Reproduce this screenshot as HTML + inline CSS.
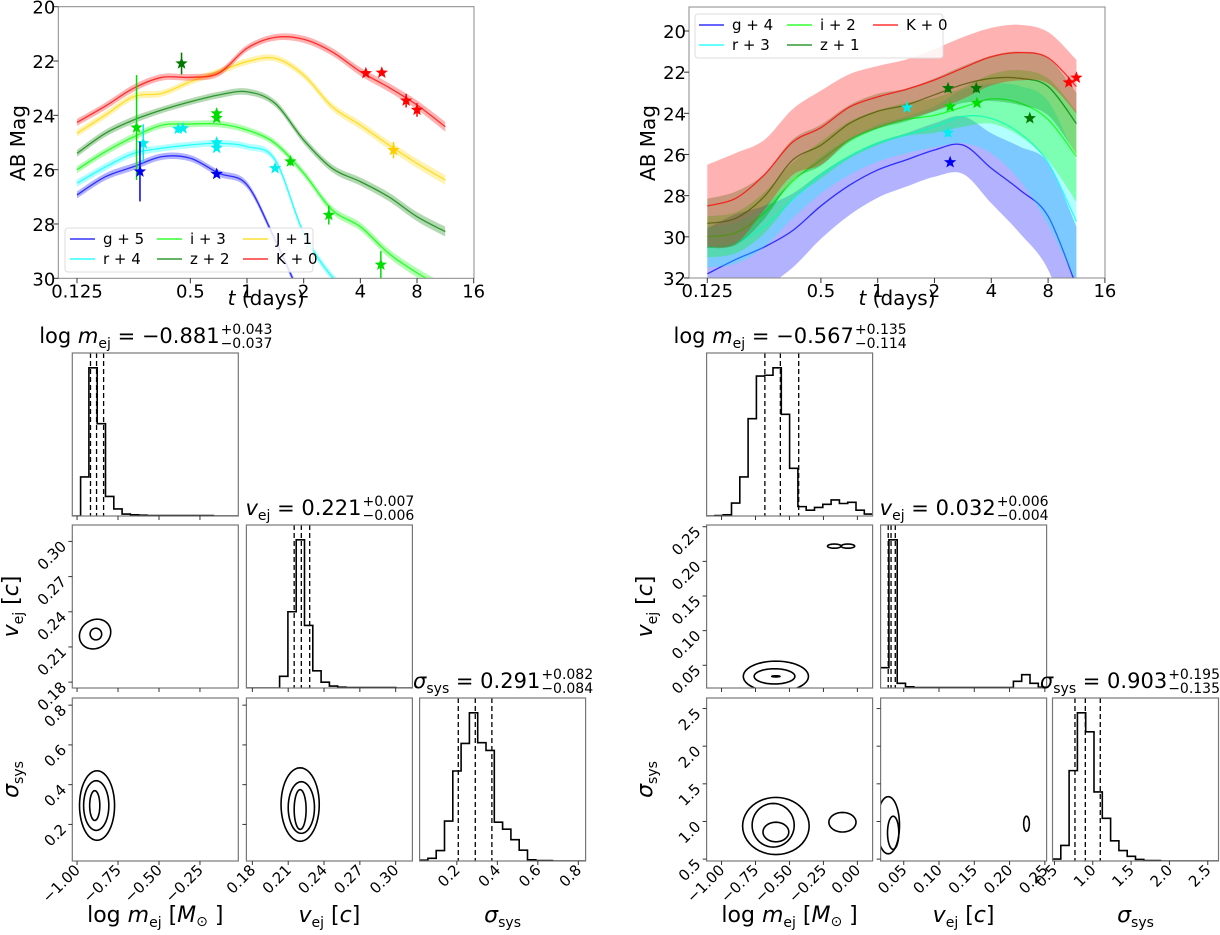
<!DOCTYPE html>
<html><head><meta charset="utf-8"><style>
html,body{margin:0;padding:0;background:#fff;}
svg{display:block;font-family:"DejaVu Sans","Liberation Sans",sans-serif;}
</style></head><body>
<svg id="fig" width="1220" height="935" viewBox="0 0 1220 935"></svg>
<script>
// ---------- light curve data ----------
const lcTimes = [0.125,0.177,0.25,0.354,0.5,0.707,1,1.41,2,2.83,4,5.66,8,11.3];
const tlG = [26.93,26.26,25.89,25.52,25.58,26.13,26.56,28.58,30.8,32,33,33.5,34,34.5];
const tlR = [26.5,25.9,25.4,25.21,25.09,25.03,25.15,25.64,28.34,29.94,30.8,31.5,32,32.5];
const tlI = [26.0,25.34,24.79,24.36,24.32,24.32,24.54,25.03,26.13,27.48,28.1,29.08,29.8,30.4];
const tlZ = [25.4,24.66,24.17,23.8,23.5,23.25,23.13,23.56,24.91,25.95,26.44,27.0,27.73,28.28];
const tlJ = [24.66,23.99,23.31,23.19,22.76,22.39,22.02,21.9,22.52,23.68,24.36,25.09,25.77,26.38];
const tlK = [24.26,23.66,23.0,22.6,22.6,22.45,21.53,21.13,21.2,21.66,22.39,22.97,23.62,24.42];
const tlHW = [0.13,0.13,0.13,0.12,0.12,0.12,0.12,0.12,0.13,0.14,0.15,0.16,0.17,0.18];
const tlStarT = [0.449,0.259,0.69,0.69,1.70,2.72,5.14,0.281,0.431,0.457,0.69,0.69,1.41,0.270,0.69,6.0,4.28,5.2,7.0,8.0];
const tlStarM = [22.09,24.45,23.93,24.1,25.7,27.67,29.5,25.03,24.5,24.48,25.0,25.2,25.95,26.07,26.16,25.28,22.45,22.43,23.46,23.8];
const tlStarE = [0.4,1.93,0.1,0.1,0.15,0.35,0.5,0.7,0.15,0.1,0.1,0.1,0.05,1.1,0.1,0.3,0.1,0.1,0.25,0.25];
const tlStarB = ['z','i','i','i','i','i','i','r','r','r','r','r','r','g','g','J','K','K','K','K'];

const trG = [31.8,31.1,30.5,29.7,28.5,27.5,26.75,26.27,25.78,25.54,26.67,27.72,29.0,32.4];
const trR = [30.5,30.3,29.5,28.2,27.0,26.1,25.45,25.05,24.65,24.15,24.25,24.97,26.4,29.25];
const trI = [30.0,29.8,28.85,27.3,26.27,25.3,24.7,24.3,24.1,23.7,23.3,23.5,24.3,26.1];
const trZ = [29.35,29.1,28.05,26.27,25.55,24.5,23.9,23.6,23.1,22.6,22.3,22.3,22.7,24.5];
const trK = [28.5,28.13,27.0,25.4,24.7,23.7,23.2,22.84,22.38,21.8,21.25,21.05,21.3,22.7];
const trHWG = [2.2,2.2,2.0,1.8,1.6,1.45,1.35,1.3,1.3,1.4,1.7,2.1,2.6,2.9];
const trHWR = [1.0,1.0,1.0,0.9,0.9,0.9,0.9,0.9,1.0,1.3,1.7,2.3,3.0,3.0];
const trHWI = [1.0,1.0,1.0,0.9,0.9,0.9,0.85,0.8,0.85,0.95,1.2,1.6,2.0,2.2];
const trHWZ = [1.2,1.3,1.1,1.0,1.0,0.9,0.85,0.8,0.8,0.9,1.1,1.3,1.4,1.5];
const trHWK = [2.0,2.2,1.7,1.6,1.8,1.6,1.5,1.45,1.5,1.5,1.4,1.35,1.25,1.3];
const trStarT = [1.43,2.36,2.36,3.33,6.4,2.42,3.36,2.42,10.3,11.3];
const trStarM = [23.72,24.94,22.78,22.78,24.24,23.67,23.5,26.38,22.5,22.27];
const trStarE = [0.05,0.2,0.2,0.2,0.05,0.1,0.1,0.15,0.1,0.05];
const trStarB = ['r','r','z','z','z','i','i','g','K','K'];

const xTickVals = [0.125,0.5,1,2,4,8,16];
const xTickLabels = ['0.125','0.5','1','2','4','8','16'];
const tlYTicks = [20,22,24,26,28,30];
const trYTicks = [20,22,24,26,28,30,32];

// ---------- corner data ----------
const L_mejHist = [0,100,379,236,50,18,5,3,2,1,1,1,1,1,1,1,1,0,0,0];
const L_vHist = [0,0,0,0,30,195,379,160,44,15,5,2,1,1,1,1,1,1,0,0];
const L_sigHist = [2,7,27,103,232,303,382,305,285,100,82,55,28,3,1,1,0,0,0,0];
const R_mejHist = [0,1,3,33,100,249,358,360,379,260,122,24,15,22,30,41,32,35,15,5];
const R_vHist = [52,379,12,3,1,1,1,1,1,1,1,1,1,1,1,1,17,34,12,2];
const R_sigHist = [5,40,233,382,333,178,110,52,27,12,4,1,1,0,0,0,0,0,0,0];
const L_med = [-0.881,0.221,0.291];
const L_plus = [0.043,0.007,0.082];
const L_minus = [0.037,0.006,0.084];
const R_med = [-0.567,0.032,0.903];
const R_plus = [0.135,0.006,0.195];
const R_minus = [0.114,0.004,0.135];
const L_c21 = [[-0.89,0.221,0.1,0.012,-35],[-0.885,0.221,0.035,0.005,-35]];
const L_c31 = [[-0.878,0.295,0.107,0.175,0],[-0.883,0.295,0.077,0.125,0],[-0.892,0.295,0.031,0.075,0]];
const L_c32 = [[0.220,0.30,0.016,0.185,0],[0.221,0.285,0.011,0.13,0],[0.22,0.275,0.005,0.1,0]];
const R_c21 = [[-0.6,0.034,0.24,0.022,0],[-0.61,0.034,0.15,0.011,0],[-0.6,0.034,0.03,0.0008,0],[-0.17,0.222,0.05,0.003,0],[-0.07,0.222,0.05,0.003,0]];
const R_c31 = [[-0.6,0.94,0.245,0.38,0],[-0.62,0.95,0.155,0.29,0],[-0.6,0.86,0.095,0.13,0],[-0.11,0.99,0.1,0.13,0]];
const R_c32 = [[0.028,0.95,0.016,0.38,0],[0.035,0.85,0.008,0.22,0],[0.224,0.97,0.004,0.1,0]];
const L_mejTicks = [-1.0,-0.75,-0.5,-0.25];
const L_mejLabels = ['\u22121.00','\u22120.75','\u22120.50','\u22120.25'];
const L_vTicks = [0.18,0.21,0.24,0.27,0.30];
const L_vLabels = ['0.18','0.21','0.24','0.27','0.30'];
const L_sigTicks = [0.2,0.4,0.6,0.8];
const L_sigLabels = ['0.2','0.4','0.6','0.8'];
const R_mejTicks = [-1.0,-0.75,-0.5,-0.25,0];
const R_mejLabels = ['\u22121.00','\u22120.75','\u22120.50','\u22120.25','0.00'];
const R_vTicks = [0.05,0.10,0.15,0.20,0.25];
const R_vLabels = ['0.05','0.10','0.15','0.20','0.25'];
const R_sigTicks = [0.5,1.0,1.5,2.0,2.5];
const R_sigLabels = ['0.5','1.0','1.5','2.0','2.5'];

const NS='http://www.w3.org/2000/svg';
const svg=document.getElementById('fig');
function mk(tag,parent,attrs){const e=document.createElementNS(NS,tag);for(const k in attrs)e.setAttribute(k,attrs[k]);parent.appendChild(e);return e;}
const COL={g:'#0000ff',r:'#00ffff',i:'#00ff00',z:'#008000',J:'#ffd700',K:'#ff0000'};
const SCOL={g:'#0000ee',r:'#00eeee',i:'#00dd00',z:'#007700',J:'#ffcc00',K:'#ff0000'};
let clipId=0;
function smooth(p){let d='M'+p[0][0].toFixed(2)+','+p[0][1].toFixed(2);for(let i=0;i<p.length-1;i++){const p0=p[i-1]||p[i],p1=p[i],p2=p[i+1],p3=p[i+2]||p2;d+=' C'+(p1[0]+(p2[0]-p0[0])/6).toFixed(2)+','+(p1[1]+(p2[1]-p0[1])/6).toFixed(2)+' '+(p2[0]-(p3[0]-p1[0])/6).toFixed(2)+','+(p2[1]-(p3[1]-p1[1])/6).toFixed(2)+' '+p2[0].toFixed(2)+','+p2[1].toFixed(2);}return d;}
function smoothCont(p){return smooth(p).replace(/^M/,'L');}
function starPts(cx,cy,r){let s=[];for(let k=0;k<10;k++){const a=-Math.PI/2+k*Math.PI/5;const rr=k%2?r*0.42:r;s.push((cx+rr*Math.cos(a)).toFixed(2)+','+(cy+rr*Math.sin(a)).toFixed(2));}return s.join(' ');}

function drawLC(o){
  const g=mk('g',svg,{});
  
  
  const X=t=>o.xa+Math.log2(t/0.125)*o.xs;
  const Y=m=>o.ya+(m-o.m0)*o.ys;
  const cid='c'+(clipId++);
  const cp=mk('clipPath',g,{id:cid});mk('rect',cp,{x:o.x0,y:o.y0,width:o.x1-o.x0,height:o.y1-o.y0});
  const pl=mk('g',g,{'clip-path':'url(#'+cid+')'});
  o.bands.forEach(b=>{
    const up=lcTimes.map((t,i)=>[X(t),Y(b.m[i]-b.hw[i])]);
    const lo=lcTimes.map((t,i)=>[X(t),Y(b.m[i]+b.hw[i])]).reverse();
    const band=mk('path',pl,{d:smooth(up)+' '+smoothCont(lo)+' Z',fill:COL[b.k],'fill-opacity':o.alpha,stroke:'none'});
    
    
    const ln=mk('path',pl,{d:smooth(lcTimes.map((t,i)=>[X(t),Y(b.m[i])])),fill:'none',stroke:COL[b.k],'stroke-width':1.3,'stroke-opacity':0.75});
    
    
  });
  o.st.forEach((t,i)=>{
    const c=SCOL[o.sb[i]];
    const eb=mk('line',pl,{x1:X(t),x2:X(t),y1:Y(o.sm[i]-o.se[i]),y2:Y(o.sm[i]+o.se[i]),stroke:c,'stroke-width':1.5});
    
    
    const s=mk('polygon',pl,{points:starPts(X(t),Y(o.sm[i]),6.5),fill:c});
    
    
  });
  const fr=mk('rect',g,{x:o.x0,y:o.y0,width:o.x1-o.x0,height:o.y1-o.y0,fill:'none',stroke:'#888','stroke-width':1});
  
  
  xTickVals.forEach((t,i)=>{
    mk('line',g,{x1:X(t),x2:X(t),y1:o.y1,y2:o.y1+5,stroke:'#333'});
    const tx=mk('text',g,{x:X(t),y:o.y1+19,'font-size':18,'text-anchor':'middle',fill:'#000'});tx.textContent=xTickLabels[i];
    
    
  });
  o.yt.forEach(m=>{
    mk('line',g,{x1:o.x0-5,x2:o.x0,y1:Y(m),y2:Y(m),stroke:'#333'});
    const tx=mk('text',g,{x:o.x0-3,y:Y(m)+7,'font-size':18,'text-anchor':'end',fill:'#000'});tx.textContent=m;
    
    
  });
  const yl=mk('text',g,{x:0,y:0,'font-size':20,'text-anchor':'middle',transform:'translate('+o.ylx+',143) rotate(-90)'});yl.textContent='AB Mag';
  
  
  const xl=mk('text',g,{x:(o.x0+o.x1)/2,y:305,'font-size':20,'text-anchor':'middle'});
  const ti=mk('tspan',xl,{'font-style':'italic'});ti.textContent='t';
  const tr=mk('tspan',xl,{});tr.textContent=' (days)';
  
  
  const lg=mk('g',g,{});
  
  
  mk('rect',lg,{x:o.lg[0],y:o.lg[1],width:o.lg[2],height:o.lg[3],rx:3,fill:'#fff','fill-opacity':0.85,stroke:'#ddd'});
  o.bands.forEach((b,i)=>{
    const pos=o.lgPos[i];
    const e=mk('g',lg,{});
    
    
    mk('line',e,{x1:pos[0],x2:pos[0]+25,y1:pos[1],y2:pos[1],stroke:COL[b.k],'stroke-width':1.5,'stroke-opacity':0.8});
    const t=mk('text',e,{x:pos[0]+33,y:pos[1]+5,'font-size':15});t.textContent=b.label;
  });
}

drawLC({name:'light-curve-left',x0:58.3,x1:474,y0:6.7,y1:278.3,xa:77,xs:56.67,ya:6.7,m0:20,ys:27.16,alpha:0.3,ylx:25,
  bands:[{k:'g',m:tlG,hw:tlHW,label:'g + 5'},{k:'r',m:tlR,hw:tlHW,label:'r + 4'},{k:'i',m:tlI,hw:tlHW,label:'i + 3'},{k:'z',m:tlZ,hw:tlHW,label:'z + 2'},{k:'J',m:tlJ,hw:tlHW,label:'J + 1'},{k:'K',m:tlK,hw:tlHW,label:'K + 0'}],
  st:tlStarT,sm:tlStarM,se:tlStarE,sb:tlStarB,yt:tlYTicks,
  lg:[65,228,248,44],lgPos:[[70,239],[70,259],[157,239],[157,259],[243,239],[243,259]]});
drawLC({name:'light-curve-right',x0:689,x1:1105,y0:7,y1:278,xa:707.3,xs:56.8,ya:31,m0:20,ys:20.58,alpha:0.3,ylx:655,
  bands:[{k:'g',m:trG,hw:trHWG,label:'g + 4'},{k:'r',m:trR,hw:trHWR,label:'r + 3'},{k:'i',m:trI,hw:trHWI,label:'i + 2'},{k:'z',m:trZ,hw:trHWZ,label:'z + 1'},{k:'K',m:trK,hw:trHWK,label:'K + 0'}],
  st:trStarT,sm:trStarM,se:trStarE,sb:trStarB,yt:trYTicks,
  lg:[695,14,248,44],lgPos:[[699,25],[699,45],[787,25],[787,45],[873,25]]});

// ---------- corner plots ----------
function drawCorner(o){
  const g=mk('g',svg,{});
  
  
  const W=166,H=163;
  const sx=(c,v)=>o.cx[c]+(v-o.rng[c][0])/(o.rng[c][1]-o.rng[c][0])*W;
  const sy=(r,v)=>o.ry[r]+H-(v-o.rng[r][0])/(o.rng[r][1]-o.rng[r][0])*H;
  for(let r=0;r<3;r++)for(let c=0;c<=r;c++){
    const x0=o.cx[c],y0=o.ry[r];
    const p=mk('g',g,{});
    
    
    const cid='c'+(clipId++);
    const cp=mk('clipPath',p,{id:cid});mk('rect',cp,{x:x0,y:y0,width:W,height:H});
    const pl=mk('g',p,{'clip-path':'url(#'+cid+')'});
    if(r===c){
      const h=o.hist[c],mx=Math.max(...h)*1.1,n=h.length;
      const bw=(o.rng[c][1]-o.rng[c][0])/n;
      let d='';
      h.forEach((v,i)=>{const xa=sx(c,o.rng[c][0]+i*bw),xb=sx(c,o.rng[c][0]+(i+1)*bw),yy=y0+H-v/mx*H;d+=(i?'L':'M')+xa.toFixed(2)+','+yy.toFixed(2)+'L'+xb.toFixed(2)+','+yy.toFixed(2);});
      const hp=mk('path',pl,{d:d,fill:'none',stroke:'#000','stroke-width':1.6});
      
      
      [o.med[c]-o.minus[c],o.med[c],o.med[c]+o.plus[c]].forEach(q=>{
        const ql=mk('line',pl,{x1:sx(c,q),x2:sx(c,q),y1:y0,y2:y0+H,stroke:'#000','stroke-width':1.3,'stroke-dasharray':'5,3'});
        
        
      });
      const tt=mk('text',g,{x:0,y:y0-10,'font-size':21});
      const ps=o.titles[c];
      ps.forEach(s=>{const ts=mk('tspan',tt,s[1]);ts.textContent=s[0];});
      
      
      const w=tt.getComputedTextLength();
      const sup=mk('text',g,{x:0,y:y0-19,'font-size':14});sup.textContent='+'+o.plus[c].toFixed(3);
      const sub=mk('text',g,{x:0,y:y0-5,'font-size':14});sub.textContent='\u2212'+o.minus[c].toFixed(3);
      
      
      
      
      const w2=Math.max(sup.getComputedTextLength(),sub.getComputedTextLength());
      let sx0=x0+W/2-(w+w2)/2;
      if(sx0+w+w2>1219)sx0=1219-w-w2;
      tt.setAttribute('x',sx0);sup.setAttribute('x',sx0+w+1);sub.setAttribute('x',sx0+w+1);
    } else {
      o.cont[r+''+c].forEach(e=>{
        const pts=[];
        for(let k=0;k<48;k++){const a=k/48*2*Math.PI;const px=Math.cos(a)*(e[2]/(o.rng[c][1]-o.rng[c][0])*W),py=-Math.sin(a)*(e[3]/(o.rng[r][1]-o.rng[r][0])*H);const th=e[4]*Math.PI/180;pts.push((sx(c,e[0])+px*Math.cos(th)-py*Math.sin(th)).toFixed(2)+','+(sy(r,e[1])+px*Math.sin(th)+py*Math.cos(th)).toFixed(2));}
        const cl=mk('polygon',pl,{points:pts.join(' '),fill:'none',stroke:'#000','stroke-width':1.6});
        
        
      });
    }
    const fr=mk('rect',p,{x:x0,y:y0,width:W,height:H,fill:'none',stroke:'#777','stroke-width':1.2});
    
    
    o.ticks[c].forEach((v,i)=>{
      const x=sx(c,v);
      mk('line',p,{x1:x,x2:x,y1:y0+H,y2:y0+H+4,stroke:'#333'});
      if(r===2){const tl=mk('text',g,{x:0,y:0,'font-size':15,'text-anchor':'end',transform:'translate('+(x+4)+','+(y0+H+10)+') rotate(-45)'});tl.textContent=o.tlab[c][i];
        
        }
    });
    if(r!==c){o.ticks[r].forEach((v,i)=>{
      const y=sy(r,v);
      mk('line',p,{x1:x0-4,x2:x0,y1:y,y2:y,stroke:'#333'});
      if(c===0){const tl=mk('text',g,{x:0,y:0,'font-size':15,'text-anchor':'end',transform:'translate('+(x0-5)+','+(y+6)+') rotate(-45)'});tl.textContent=o.tlab[r][i];
        
        }
    });}
  }
  for(let c=0;c<3;c++){
    const t=mk('text',g,{x:o.cx[c]+W/2,y:922,'font-size':22,'text-anchor':'middle'});
    o.alab[c].forEach(s=>{const ts=mk('tspan',t,s[1]);ts.textContent=s[0];});
    
    
  }
  for(let r=1;r<3;r++){
    const t=mk('text',g,{x:0,y:0,'font-size':22,'text-anchor':'middle',transform:'translate('+(o.ylx)+','+(o.ry[r]+H/2)+') rotate(-90)'});
    o.alab[r].forEach(s=>{const ts=mk('tspan',t,s[1]);ts.textContent=s[0];});
    
    
  }
}
const sub={dy:5,'font-size':14};const back={dy:-5};const it={'font-style':'italic'};
function titleParts(c,v){
  if(c===0)return [['log ',{}],['m',it],['ej',sub],[' = '+v,back]];
  if(c===1)return [['v',it],['ej',sub],[' = '+v,back]];
  return [['\u03c3',it],['sys',sub],[' = '+v,back]];
}
const axisLabs=[[['log ',{}],['m',it],['ej',sub],[' [',back],['M',it],['\u2299',{dy:4,'font-size':14}],[' ]',{dy:-4}]],
  [['v',it],['ej',sub],[' [',back],['c',it],[']',{}]],
  [['\u03c3',it],['sys',sub]]];
function fmt(v){return (v<0?'\u2212':'')+Math.abs(v).toFixed(3);}
drawCorner({name:'corner-plot-left',cx:[72.3,246.4,419.6],ry:[353,525,698],ylx:18,pn:['mej','vej','sigma'],
  rng:[[-1.029,-0.016],[0.175,0.314],[0.016,0.836]],hist:[L_mejHist,L_vHist,L_sigHist],
  med:L_med,plus:L_plus,minus:L_minus,cont:{'10':L_c21,'20':L_c31,'21':L_c32},
  ticks:[L_mejTicks,L_vTicks,L_sigTicks],tlab:[L_mejLabels,L_vLabels,L_sigLabels],
  titles:[titleParts(0,fmt(L_med[0])),titleParts(1,fmt(L_med[1])),titleParts(2,fmt(L_med[2]))],alab:axisLabs});
drawCorner({name:'corner-plot-right',cx:[706.6,880.6,1052.5],ry:[353,525,698],ylx:652,pn:['mej','vej','sigma'],
  rng:[[-1.11,0.112],[0.0172,0.2525],[0.475,2.64]],hist:[R_mejHist,R_vHist,R_sigHist],
  med:R_med,plus:R_plus,minus:R_minus,cont:{'10':R_c21,'20':R_c31,'21':R_c32},
  ticks:[R_mejTicks,R_vTicks,R_sigTicks],tlab:[R_mejLabels,R_vLabels,R_sigLabels],
  titles:[titleParts(0,fmt(R_med[0])),titleParts(1,fmt(R_med[1])),titleParts(2,fmt(R_med[2]))],alab:axisLabs});
</script>
</body></html>
